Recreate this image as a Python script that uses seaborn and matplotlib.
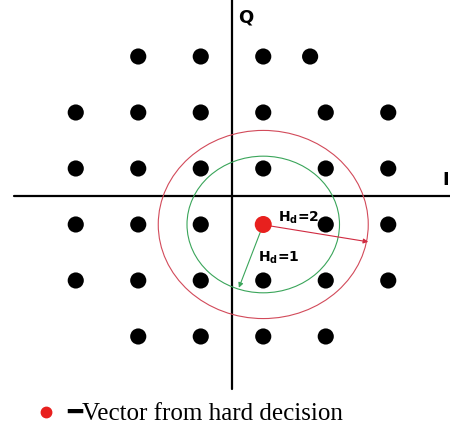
import numpy as np
import matplotlib.pyplot as plt
from matplotlib.lines import Line2D
from matplotlib.patches import Circle
import seaborn as sns

# constellation points (I, Q)
const_i = [-1.5, -0.5, 0.5, 1.25,
           -2.5, -1.5, -0.5, 0.5, 1.5, 2.5,
           -2.5, -1.5, -0.5, 0.5, 1.5, 2.5,
           -2.5, -1.5, -0.5, 1.5, 2.5,
           -2.5, -1.5, -0.5, 0.5, 1.5, 2.5,
           -1.5, -0.5, 0.5, 1.5]
const_q = [2.5, 2.5, 2.5, 2.5,
           1.5, 1.5, 1.5, 1.5, 1.5, 1.5,
           0.5, 0.5, 0.5, 0.5, 0.5, 0.5,
           -0.5, -0.5, -0.5, -0.5, -0.5,
           -1.5, -1.5, -1.5, -1.5, -1.5, -1.5,
           -2.5, -2.5, -2.5, -2.5]

# hard decision vector and Hamming distance spheres
hard_i, hard_q = [0.5], [-0.5]
radius_hd1 = 1.22
radius_hd2 = 1.68
arrow_hd1 = (0.11, -1.63)
arrow_hd2 = (2.18, -0.81)

sns.set_style("white")
plt.rcParams['text.color'] = 'black'
fig = plt.figure(figsize=(4.5, 4.3), dpi=100)
ax = fig.add_axes([0, 0, 1, 1])
ax.set_xlim(-3.712, 3.488)
ax.set_ylim(-4.17, 3.509)
ax.set_axis_off()

# I/Q axes
ax.plot([0, 0], [3.6, -3.44], color='black', lw=1.6, zorder=1)
ax.plot([-3.49, 3.6], [0, 0], color='black', lw=1.6, zorder=1)
ax.text(0.1, 3.2, 'Q', fontsize=13, fontweight='bold', ha='left', va='center')
ax.text(3.42, 0.3, 'I', fontsize=13, fontweight='bold', ha='center', va='center')

sns.scatterplot(x=const_i, y=const_q, color='black', s=135, edgecolor='none',
                ax=ax, zorder=3)

ax.add_patch(Circle((hard_i[0], hard_q[0]), radius_hd1, fill=False,
                    ec='#3aa55a', lw=0.8, zorder=2))
ax.add_patch(Circle((hard_i[0], hard_q[0]), radius_hd2, fill=False,
                    ec='#d24a5a', lw=0.8, zorder=2))

sns.scatterplot(x=hard_i, y=hard_q, color='#e8201e', s=150, edgecolor='none',
                ax=ax, zorder=4)

ax.annotate('', xy=arrow_hd1, xytext=(hard_i[0], hard_q[0]),
            arrowprops=dict(arrowstyle='-|>', color='#3aa55a', lw=0.8,
                            mutation_scale=7, shrinkA=0, shrinkB=0), zorder=3)
ax.annotate('', xy=arrow_hd2, xytext=(hard_i[0] + 0.08, hard_q[0] - 0.02),
            arrowprops=dict(arrowstyle='-|>', color='#d02a40', lw=0.8,
                            mutation_scale=7, shrinkA=0, shrinkB=0), zorder=3)

ax.text(0.74, -0.38, r'$\mathbf{H_d}$=2', fontsize=10, fontweight='bold',
        ha='left', va='center', zorder=5)
ax.text(0.42, -1.1, r'$\mathbf{H_d}$=1', fontsize=10, fontweight='bold',
        ha='left', va='center', zorder=5)

handle = Line2D([], [], marker='o', color='#e8201e', linestyle='none',
                markersize=7.5)
ax.legend([handle], ['\u2501Vector from hard decision'], loc='lower left',
          bbox_to_anchor=(0.036, -0.03), frameon=False, handlelength=1.0,
          handletextpad=0.35, borderpad=0.2,
          prop={'family': ['Liberation Serif', 'DejaVu Sans'], 'size': 18})

fig.savefig('out.png', dpi=100)
